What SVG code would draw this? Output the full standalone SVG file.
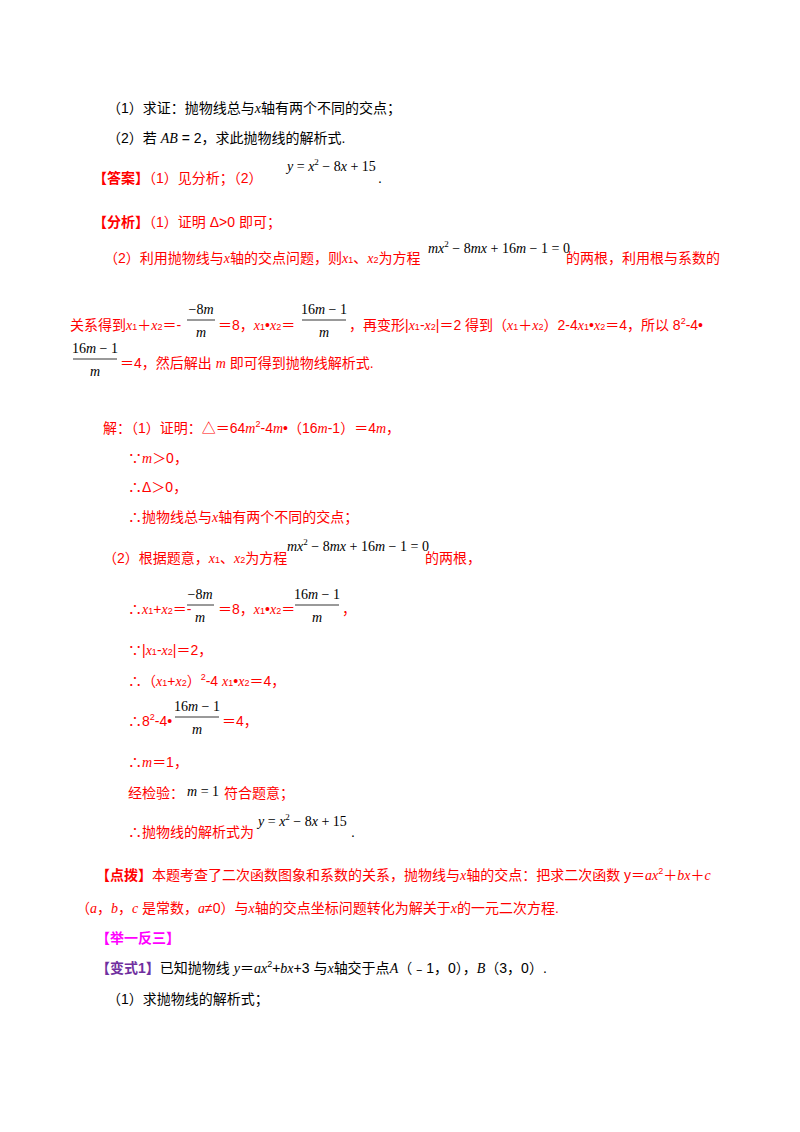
<svg xmlns="http://www.w3.org/2000/svg" width="800" height="1132" viewBox="0 0 800 1132">
<style>
text{font-family:"Liberation Sans","Noto Sans CJK SC",sans-serif;font-size:14px;fill:#000}
.r{fill:#ff0000}
.b{font-weight:bold}
.m{font-family:"Liberation Serif","Noto Sans CJK SC",serif;font-size:14px;fill:#000}
.i{font-style:italic;font-family:"Liberation Serif",serif}
.s{font-size:9px}
line{stroke:#000;stroke-width:0.8}
</style>
<rect width="800" height="1132" fill="#fff"/>
<text x="107" y="113">（1）求证：抛物线总与<tspan class="i">x</tspan>轴有两个不同的交点；</text>
<text x="107" y="143">（2）若 <tspan class="i">AB</tspan> = 2，求此抛物线的解析式.</text>
<text x="93" y="183" class="r"><tspan class="b">【答案】</tspan>（1）见分析；（2）</text>
<text x="287" y="171" class="m"><tspan class="i">y</tspan> = <tspan class="i">x</tspan><tspan class="s" dy="-6">2</tspan><tspan dy="6"> − 8</tspan><tspan class="i">x</tspan> + 15</text>
<text x="378" y="183">.</text>
<text x="93" y="227" class="r"><tspan class="b">【分析】</tspan>（1）证明 Δ&gt;0 即可；</text>
<text x="104" y="263" class="r">（2）利用抛物线与<tspan class="i">x</tspan>轴的交点问题，则<tspan class="i">x</tspan><tspan class="s">1</tspan>、<tspan class="i">x</tspan><tspan class="s">2</tspan>为方程</text>
<text x="428" y="253" class="m"><tspan class="i">mx</tspan><tspan class="s" dy="-6">2</tspan><tspan dy="6"> − 8</tspan><tspan class="i">mx</tspan> + 16<tspan class="i">m</tspan> − 1 = 0</text>
<text x="566" y="263" class="r">的两根，利用根与系数的</text>
<text x="70" y="330" class="r">关系得到<tspan class="i">x</tspan><tspan class="s">1</tspan>＋<tspan class="i">x</tspan><tspan class="s">2</tspan>＝-</text>
<g><text x="201" y="314" class="m" text-anchor="middle">−8<tspan class="i">m</tspan></text><line x1="187" y1="320" x2="215" y2="320"/><text x="201" y="337" class="m i" text-anchor="middle">m</text></g>
<text x="218" y="330" class="r">＝8，<tspan class="i">x</tspan><tspan class="s">1</tspan>•<tspan class="i">x</tspan><tspan class="s">2</tspan>＝</text>
<g><text x="324" y="314" class="m" text-anchor="middle">16<tspan class="i">m</tspan> − 1</text><line x1="302" y1="320" x2="346" y2="320"/><text x="324" y="337" class="m i" text-anchor="middle">m</text></g>
<text x="349" y="330" class="r">，再变形|<tspan class="i">x</tspan><tspan class="s">1</tspan>-<tspan class="i">x</tspan><tspan class="s">2</tspan>|＝2 得到（<tspan class="i">x</tspan><tspan class="s">1</tspan>＋<tspan class="i">x</tspan><tspan class="s">2</tspan>）2-4<tspan class="i">x</tspan><tspan class="s">1</tspan>•<tspan class="i">x</tspan><tspan class="s">2</tspan>＝4，所以 8<tspan class="s" dy="-6">2</tspan><tspan dy="6">-4•</tspan></text>
<g><text x="95" y="353" class="m" text-anchor="middle">16<tspan class="i">m</tspan> − 1</text><line x1="73" y1="359" x2="117" y2="359"/><text x="95" y="376" class="m i" text-anchor="middle">m</text></g>
<text x="120" y="368" class="r">＝4，然后解出 <tspan class="i">m</tspan> 即可得到抛物线解析式.</text>
<text x="103" y="433" class="r">解：（1）证明：△＝64<tspan class="i">m</tspan><tspan class="s" dy="-6">2</tspan><tspan dy="6">-4</tspan><tspan class="i">m</tspan>•（16<tspan class="i">m</tspan>-1）＝4<tspan class="i">m</tspan>，</text>
<text x="128" y="463" class="r">∵<tspan class="i">m</tspan>＞0，</text>
<text x="128" y="492" class="r">∴Δ＞0，</text>
<text x="128" y="522" class="r">∴抛物线总与<tspan class="i">x</tspan>轴有两个不同的交点；</text>
<text x="103" y="563" class="r">（2）根据题意，<tspan class="i">x</tspan><tspan class="s">1</tspan>、<tspan class="i">x</tspan><tspan class="s">2</tspan>为方程</text>
<text x="287" y="551" class="m"><tspan class="i">mx</tspan><tspan class="s" dy="-6">2</tspan><tspan dy="6"> − 8</tspan><tspan class="i">mx</tspan> + 16<tspan class="i">m</tspan> − 1 = 0</text>
<text x="425" y="563" class="r">的两根，</text>
<text x="128" y="614" class="r">∴<tspan class="i">x</tspan><tspan class="s">1</tspan>+<tspan class="i">x</tspan><tspan class="s">2</tspan>＝-</text>
<g><text x="200" y="599" class="m" text-anchor="middle">−8<tspan class="i">m</tspan></text><line x1="187" y1="605" x2="214" y2="605"/><text x="200" y="622" class="m i" text-anchor="middle">m</text></g>
<text x="218" y="614" class="r">＝8，<tspan class="i">x</tspan><tspan class="s">1</tspan>•<tspan class="i">x</tspan><tspan class="s">2</tspan>＝</text>
<g><text x="317" y="599" class="m" text-anchor="middle">16<tspan class="i">m</tspan> − 1</text><line x1="295" y1="605" x2="339" y2="605"/><text x="317" y="622" class="m i" text-anchor="middle">m</text></g>
<text x="342" y="614" class="r">，</text>
<text x="128" y="655" class="r">∵|<tspan class="i">x</tspan><tspan class="s">1</tspan>-<tspan class="i">x</tspan><tspan class="s">2</tspan>|＝2，</text>
<text x="128" y="686" class="r">∴（<tspan class="i">x</tspan><tspan class="s">1</tspan>+<tspan class="i">x</tspan><tspan class="s">2</tspan>）<tspan class="s" dy="-6">2</tspan><tspan dy="6">-4  </tspan><tspan class="i">x</tspan><tspan class="s">1</tspan>•<tspan class="i">x</tspan><tspan class="s">2</tspan>＝4，</text>
<text x="128" y="726" class="r">∴8<tspan class="s" dy="-6">2</tspan><tspan dy="6">-4•</tspan></text>
<g><text x="197" y="711" class="m" text-anchor="middle">16<tspan class="i">m</tspan> − 1</text><line x1="175" y1="717" x2="219" y2="717"/><text x="197" y="734" class="m i" text-anchor="middle">m</text></g>
<text x="222" y="726" class="r">＝4，</text>
<text x="128" y="767" class="r">∴<tspan class="i">m</tspan>＝1，</text>
<text x="128" y="798" class="r">经检验：</text>
<text x="187" y="796" class="m"><tspan class="i">m</tspan> = 1</text>
<text x="224" y="798" class="r">符合题意；</text>
<text x="128" y="837" class="r">∴抛物线的解析式为</text>
<text x="258" y="826" class="m"><tspan class="i">y</tspan> = <tspan class="i">x</tspan><tspan class="s" dy="-6">2</tspan><tspan dy="6"> − 8</tspan><tspan class="i">x</tspan> + 15</text>
<text x="351" y="837">.</text>
<text x="96" y="880" class="r"><tspan class="b">【点拨】</tspan>本题考查了二次函数图象和系数的关系，抛物线与<tspan class="i">x</tspan>轴的交点：把求二次函数 y＝<tspan class="i">ax</tspan><tspan class="s" dy="-6">2</tspan><tspan dy="6">＋</tspan><tspan class="i">bx</tspan>＋<tspan class="i">c</tspan></text>
<text x="76" y="913" class="r">（<tspan class="i">a</tspan>，<tspan class="i">b</tspan>，<tspan class="i">c</tspan> 是常数，<tspan class="i">a</tspan>≠0）与<tspan class="i">x</tspan>轴的交点坐标问题转化为解关于<tspan class="i">x</tspan>的一元二次方程.</text>
<text x="96" y="943" class="b" style="fill:#ff00ff">【举一反三】</text>
<text x="96" y="973"><tspan class="b" style="fill:#7030a0">【变式1】</tspan>已知抛物线 <tspan class="i">y</tspan>＝<tspan class="i">ax</tspan><tspan class="s" dy="-6">2</tspan><tspan dy="6">+</tspan><tspan class="i">bx</tspan>+3 与<tspan class="i">x</tspan>轴交于点<tspan class="i">A</tspan>（﹣1，0），<tspan class="i">B</tspan>（3，0）.</text>
<text x="107" y="1004">（1）求抛物线的解析式；</text>
</svg>
